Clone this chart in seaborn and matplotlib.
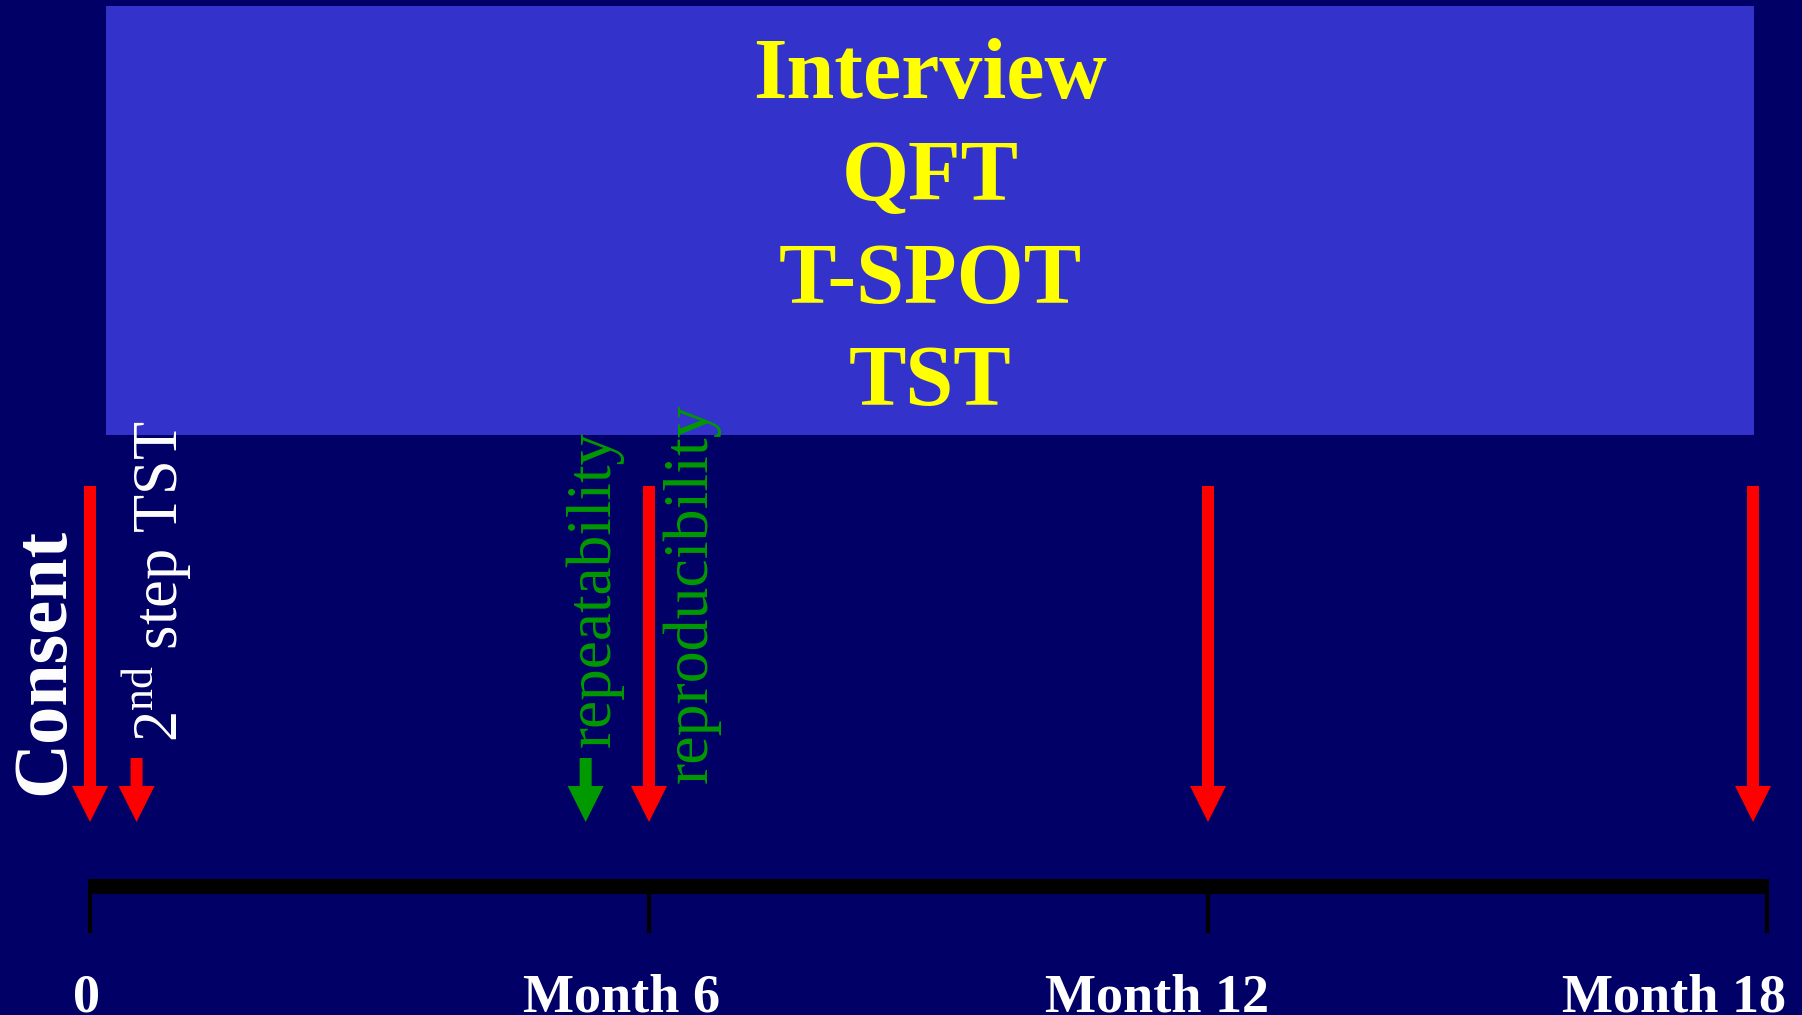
import matplotlib
matplotlib.use("Agg")
import matplotlib.pyplot as plt
import seaborn as sns
from matplotlib.patches import Rectangle, ArrowStyle
from matplotlib.transforms import Affine2D, IdentityTransform

# ---------------- data ----------------
title_lines = ["Interview", "QFT", "T-SPOT", "TST"]
tick_months = [0, 6, 12, 18]
tick_labels = ["0", "Month 6", "Month 12", "Month 18"]
label_months = [-0.04, 5.71, 11.45, 17.0]
event_months = [0, 0.5, 5.32, 6, 12, 17.85]
event_colors = ["#FF0000", "#FF0000", "#009900", "#FF0000", "#FF0000", "#FF0000"]
event_tops = [486, 758, 758, 486, 486, 486]

# ---------------- style ----------------
BG = "#000066"
BOX = "#3333CC"
YELLOW = "#FFFF00"
GREEN = "#009900"
W, H, DPI = 1802, 1015, 100

sns.set_theme(style="white")
plt.rcParams["font.family"] = ["Liberation Serif", "DejaVu Serif"]
plt.rcParams["mathtext.fontset"] = "custom"
plt.rcParams["mathtext.rm"] = "Liberation Serif"

fig = plt.figure(figsize=(W / DPI, H / DPI), dpi=DPI, facecolor=BG)
ax = fig.add_axes([0, 0, 1, 1])
ax.set_facecolor(BG)
px_per_month = (1767 - 90) / 18.0
ax.set_xlim(-90 / px_per_month, (W - 90) / px_per_month)
ax.set_ylim(H, 0)
ax.axis("off")

# pixel transform (origin top-left)
PX = Affine2D().scale(1, -1).translate(0, H) + IdentityTransform()

# top box
ax.add_patch(Rectangle((106, 6), 1754 - 106, 435 - 6, facecolor=BOX,
                       edgecolor="none", transform=PX, zorder=1))
for i, line in enumerate(title_lines):
    ax.text(930, 98 + i * 102.3, line, transform=PX, ha="center", va="baseline",
            color=YELLOW, fontsize=62, fontweight="bold", zorder=3)

# timeline axis line
sns.lineplot(x=[tick_months[0], tick_months[-1]], y=[885.5, 885.5], color="black",
             linewidth=10.8, ax=ax, solid_capstyle="butt", zorder=2)
ax.vlines(tick_months, 879, 933, colors="black", linewidth=3.0, zorder=2)
for m, lab in zip(label_months, tick_labels):
    ax.text(m, 1012, lab, ha="center", va="baseline", color="white",
            fontsize=39, fontweight="bold", zorder=3)

# event arrows
style = ArrowStyle.Simple(head_length=3, head_width=3, tail_width=1)
for m, c, top in zip(event_months, event_colors, event_tops):
    ax.annotate("", xy=(m, 822), xytext=(m, top),
                arrowprops=dict(arrowstyle=style, mutation_scale=8.64, facecolor=c,
                                edgecolor="none", lw=0, shrinkA=0, shrinkB=0),
                zorder=4)

# rotated labels
ax.text(63, 795, "Consent", transform=PX, rotation=90, rotation_mode="anchor",
        ha="left", va="baseline", color="white", fontsize=55, fontweight="bold")
ax.text(178, 742, r"2$^{\mathrm{nd}}$ step TST", transform=PX, rotation=90,
        rotation_mode="anchor", ha="left", va="baseline", color="white", fontsize=45)
ax.text(610, 747, "repeatability", transform=PX, rotation=90, rotation_mode="anchor",
        ha="left", va="baseline", color=GREEN, fontsize=45.5, zorder=5)
ax.text(707, 783, "reproducibility", transform=PX, rotation=90, rotation_mode="anchor",
        ha="left", va="baseline", color=GREEN, fontsize=46, zorder=5)

fig.savefig("out.png", dpi=DPI, facecolor=BG)
